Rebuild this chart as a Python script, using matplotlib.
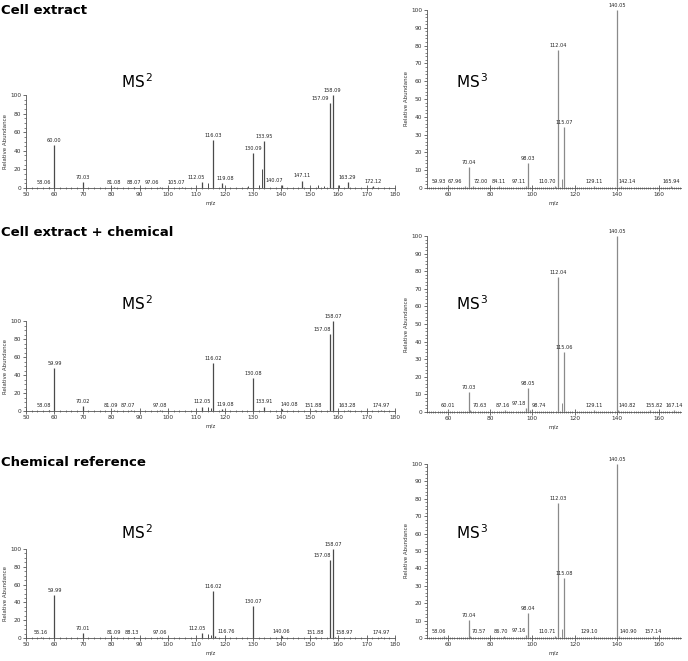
import matplotlib
matplotlib.use('Agg')
import matplotlib.pyplot as plt
from matplotlib.ticker import MultipleLocator

# ---- data (m/z, relative abundance) ----
# row 1: cell extract
cell_ms2_mz = [58.06, 60.00, 70.03, 81.08, 88.07, 97.06, 105.07, 112.05, 116.03, 119.08,
               130.09, 133.95, 140.07, 147.11, 157.09, 158.09, 163.29, 172.12]
cell_ms2_int = [1, 46, 6.5, 1, 1, 1, 1, 6, 52, 5, 37.5, 50.5, 3, 8, 91, 100, 6, 2]
cell_ms2_small_mz = [114.0, 128.1, 132.0, 133.1, 153.0, 155.0, 160.1]
cell_ms2_small_int = [5, 2, 3, 20, 3, 2, 3]

cell_ms3_mz = [59.93, 67.96, 70.04, 72.00, 84.11, 97.11, 98.03, 110.70, 112.04, 115.07,
               129.11, 140.05, 142.14, 165.94]
cell_ms3_int = [1, 1, 11.8, 1, 1, 1, 14, 1, 77.5, 34, 1, 100, 1, 1]
cell_ms3_small_mz = [114.0]
cell_ms3_small_int = [5]

# row 2: cell extract + chemical
mix_ms2_mz = [58.08, 59.99, 70.02, 81.09, 87.07, 97.08, 112.05, 116.02, 119.08, 130.08,
              133.91, 140.08, 151.88, 157.08, 158.07, 163.28, 174.97]
mix_ms2_int = [1, 47.5, 5.5, 1, 1, 1, 5, 53, 2, 37, 5, 2, 1, 86, 100, 1, 1]
mix_ms2_small_mz = [114.0, 115.0]
mix_ms2_small_int = [4, 3]

mix_ms3_mz = [60.01, 70.03, 70.63, 87.16, 97.18, 98.05, 98.74, 112.04, 115.06, 129.11,
              140.05, 140.82, 155.82, 167.14]
mix_ms3_int = [1, 11.4, 1, 1, 2, 13.6, 1, 76.7, 34, 1, 100, 1, 1, 1]
mix_ms3_small_mz = [114.0]
mix_ms3_small_int = [5]

# row 3: chemical reference
ref_ms2_mz = [55.16, 59.99, 70.01, 81.09, 88.13, 97.06, 112.05, 116.02, 116.76, 130.07,
              140.06, 151.88, 157.08, 158.07, 158.97, 174.97]
ref_ms2_int = [1, 48, 6, 1, 1, 1, 6, 53, 2, 36, 2, 1, 88, 100, 1, 1]
ref_ms2_small_mz = [114.0, 115.0]
ref_ms2_small_int = [4, 3]

ref_ms3_mz = [58.06, 70.04, 70.57, 86.70, 97.16, 98.04, 110.71, 112.03, 115.08, 129.10,
              140.05, 140.90, 157.14]
ref_ms3_int = [1, 10.3, 1, 1, 1.5, 14.4, 1, 77.6, 34.5, 1, 100, 1, 1]
ref_ms3_small_mz = [114.0]
ref_ms3_small_int = [5]

row_titles = ['Cell extract', 'Cell extract + chemical', 'Chemical reference']

# sideways nudges (pixels) of peak labels, as the instrument software placed them
nudges = [
    ({'58.06': -5, '97.06': -8, '105.07': -6, '112.05': -6, '119.08': 3, '140.07': -7, '157.09': -10},
     {'59.93': -9, '67.96': -10, '72.00': 7, '97.11': -8, '110.70': -8, '142.14': 6}),
    ({'58.08': -5, '81.09': -3, '87.07': -3, '140.08': 8, '151.88': -2, '157.08': -8, '119.08': 3},
     {'70.63': 9, '87.16': -3, '97.18': -8, '98.74': 9, '140.82': 9, '155.82': 4}),
    ({'112.05': -5, '116.76': 11, '88.13': -2, '157.08': -8, '158.97': 9},
     {'58.06': -5, '70.57': 8, '86.70': -3, '97.16': -8, '110.71': -8, '129.10': -4, '140.90': 10}),
]

W, H = 688, 661


def box(x0, y0, x1, y1):
    # pixel box (top-left origin) -> figure fraction
    return [x0 / W, 1 - y1 / H, (x1 - x0) / W, (y1 - y0) / H]


def draw_spectrum(ax, mz, inten, small_mz, small_int, nudge, ms3=False):
    col = '#8a8a8a' if ms3 else '#4a4a4a'
    ax.vlines(mz, 0, inten, color=col, lw=0.9)
    ax.vlines(small_mz, 0, small_int, color=col, lw=0.7)
    for m, v in zip(mz, inten):
        lab = '%.2f' % m
        dx = nudge.get(lab, 0) * 0.72
        ax.annotate(lab, (m, v), xytext=(dx, 1.5), textcoords='offset points',
                    ha='center', va='bottom', fontsize=3.6, color='#222222')
    if ms3:
        ax.set_xlim(50, 170.5)
        ax.xaxis.set_major_locator(MultipleLocator(20))
        ax.xaxis.set_minor_locator(MultipleLocator(1))
        ax.yaxis.set_major_locator(MultipleLocator(10))
        ax.yaxis.set_minor_locator(MultipleLocator(2))
    else:
        ax.set_xlim(50, 180)
        ax.xaxis.set_major_locator(MultipleLocator(10))
        ax.xaxis.set_minor_locator(MultipleLocator(2))
        ax.yaxis.set_major_locator(MultipleLocator(20))
        ax.yaxis.set_minor_locator(MultipleLocator(5))
    ax.set_ylim(0, 100)
    ax.spines['top'].set_visible(False)
    ax.spines['right'].set_visible(False)
    ax.spines['left'].set_color('#555555')
    ax.spines['bottom'].set_color('#555555')
    ax.spines['left'].set_linewidth(0.6)
    ax.spines['bottom'].set_linewidth(0.6)
    ax.tick_params(axis='x', which='major', direction='inout', length=4, width=0.6,
                   labelsize=4.2, colors='#555555', labelcolor='#333333', pad=1)
    ax.tick_params(axis='x', which='minor', direction='inout', length=2, width=0.5,
                   colors='#555555')
    ax.tick_params(axis='y', which='major', direction='out', length=2.5, width=0.6,
                   labelsize=4.2, colors='#555555', labelcolor='#333333', pad=1)
    ax.tick_params(axis='y', which='minor', direction='out', length=1.2, width=0.5,
                   colors='#555555')
    ax.set_ylabel('Relative Abundance', fontsize=4, color='#333333', labelpad=1.5)
    ax.set_xlabel('m/z', fontsize=4, color='#333333', labelpad=2.5)
    ax.patch.set_alpha(0)


fig = plt.figure(figsize=(6.88, 6.61), dpi=100)

rows = [
    (cell_ms2_mz, cell_ms2_int, cell_ms2_small_mz, cell_ms2_small_int,
     cell_ms3_mz, cell_ms3_int, cell_ms3_small_mz, cell_ms3_small_int),
    (mix_ms2_mz, mix_ms2_int, mix_ms2_small_mz, mix_ms2_small_int,
     mix_ms3_mz, mix_ms3_int, mix_ms3_small_mz, mix_ms3_small_int),
    (ref_ms2_mz, ref_ms2_int, ref_ms2_small_mz, ref_ms2_small_int,
     ref_ms3_mz, ref_ms3_int, ref_ms3_small_mz, ref_ms3_small_int),
]

# pixel geometry per row: (ms2 top, ms2 bottom, ms3 top, ms3 bottom, title y, MS label y)
geom = [
    (95, 188, 10, 188, 10, 82),
    (321, 411, 236, 412, 233, 304),
    (549, 638, 464, 638, 462, 533),
]

for r, (g, d) in enumerate(zip(geom, rows)):
    ax2 = fig.add_axes(box(26, g[0], 395, g[1]))
    draw_spectrum(ax2, d[0], d[1], d[2], d[3], nudges[r][0])
    ax3 = fig.add_axes(box(427, g[2], 681, g[3]))
    draw_spectrum(ax3, d[4], d[5], d[6], d[7], nudges[r][1], ms3=True)

    fig.text(1 / W, 1 - g[4] / H, row_titles[r], fontsize=9.5, fontweight='bold',
             ha='left', va='center')
    fig.text(121 / W, 1 - g[5] / H, r'MS$^{\,2}$', fontsize=11, ha='left', va='center')
    fig.text(456 / W, 1 - g[5] / H, r'MS$^{\,3}$', fontsize=11, ha='left', va='center')

fig.savefig('out.png', dpi=100)
plt.close(fig)
